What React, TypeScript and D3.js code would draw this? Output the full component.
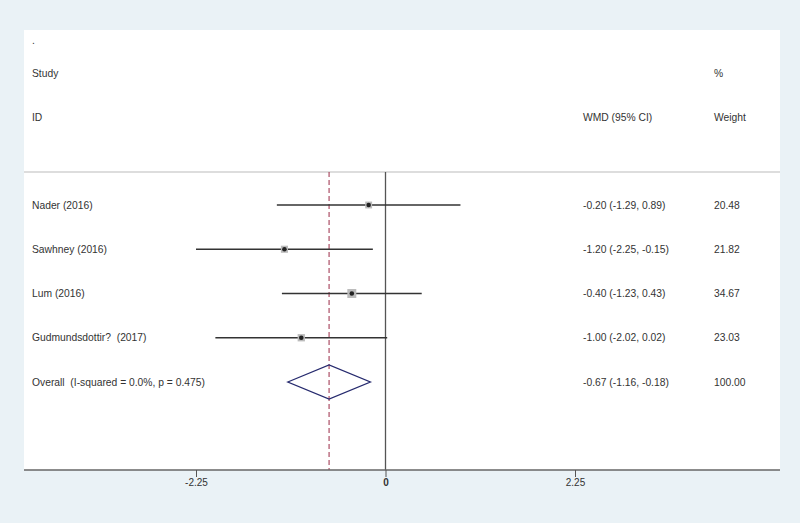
import React, { useEffect, useRef } from "react";
import * as d3 from "d3";

// study data
const studies = ["Nader (2016)", "Sawhney (2016)", "Lum (2016)", "Gudmundsdottir?  (2017)"];
const est = [-0.2, -1.2, -0.4, -1.0];
const lower = [-1.29, -2.25, -1.23, -2.02];
const upper = [0.89, -0.15, 0.43, 0.02];
const weights = [20.48, 21.82, 34.67, 23.03];
const ciText = ["-0.20 (-1.29, 0.89)", "-1.20 (-2.25, -0.15)", "-0.40 (-1.23, 0.43)", "-1.00 (-2.02, 0.02)"];

const overallLabel = "Overall  (I-squared = 0.0%, p = 0.475)";
const overall = { est: -0.67, lo: -1.16, hi: -0.18, text: "-0.67 (-1.16, -0.18)", weight: "100.00" };

const xTicks = [-2.25, 0, 2.25];

export default function App() {
  const ref = useRef<SVGSVGElement>(null);

  useEffect(() => {
    const width = 800;
    const height = 523;
    const svg = d3.select(ref.current);
    svg.selectAll("*").remove();

    const font = "Liberation Sans, Arial, sans-serif";
    const left = 24, right = 780, top = 30, bottom = 470;
    const sepY = 172;

    svg.append("rect").attr("width", width).attr("height", height).attr("fill", "#eaf2f6");
    svg.append("rect")
      .attr("x", left).attr("y", top)
      .attr("width", right - left).attr("height", bottom - top)
      .attr("fill", "#fff");

    const x = d3.scaleLinear().domain([-2.25, 2.25]).range([196, 575]);
    const rows = [...studies, overallLabel];
    const y = d3.scalePoint<string>().domain(rows).range([205, 382]);

    const txt = (s: string, tx: number, ty: number, size = 10.3) =>
      svg.append("text")
        .attr("x", tx).attr("y", ty)
        .attr("dy", "0.35em")
        .attr("font-family", font)
        .attr("font-size", size)
        .attr("fill", "#333")
        .style("white-space", "pre")
        .text(s);

    // header
    txt(".", 32, 40);
    txt("Study", 32, 73);
    txt("ID", 32, 117);
    txt("WMD (95% CI)", 583, 117);
    txt("%", 714, 73);
    txt("Weight", 714, 117);

    // separator
    svg.append("line")
      .attr("x1", left).attr("x2", right)
      .attr("y1", sepY).attr("y2", sepY)
      .attr("stroke", "#bbb").attr("stroke-width", 1);

    // null line
    svg.append("line")
      .attr("x1", x(0)).attr("x2", x(0))
      .attr("y1", sepY).attr("y2", bottom)
      .attr("stroke", "#555").attr("stroke-width", 1.3);

    // overall dashed line
    svg.append("line")
      .attr("x1", x(overall.est)).attr("x2", x(overall.est))
      .attr("y1", sepY).attr("y2", bottom)
      .attr("stroke", "#9b2a45").attr("stroke-width", 1)
      .attr("stroke-dasharray", "5,3");

    const size = d3.scaleSqrt().domain([0, 35]).range([0, 9]);

    studies.forEach((s, i) => {
      const cy = y(s)!;
      svg.append("line")
        .attr("x1", x(lower[i])).attr("x2", x(upper[i]))
        .attr("y1", cy).attr("y2", cy)
        .attr("stroke", "#333").attr("stroke-width", 1.5);
      const w = size(weights[i]);
      svg.append("rect")
        .attr("x", x(est[i]) - w / 2).attr("y", cy - w / 2)
        .attr("width", w).attr("height", w)
        .attr("fill", "#bbb");
      svg.append("circle")
        .attr("cx", x(est[i])).attr("cy", cy).attr("r", 2.3)
        .attr("fill", "#222");
      txt(s, 32, cy);
      txt(ciText[i], 583, cy);
      txt(weights[i].toFixed(2), 714, cy);
    });

    // overall diamond
    const oy = y(overallLabel)!;
    const dh = 17;
    svg.append("path")
      .attr("d", d3.line()([
        [x(overall.lo), oy],
        [x(overall.est), oy - dh],
        [x(overall.hi), oy],
        [x(overall.est), oy + dh],
      ]) + "Z")
      .attr("fill", "none")
      .attr("stroke", "#262a6e")
      .attr("stroke-width", 1.3);
    txt(overallLabel, 32, oy);
    txt(overall.text, 583, oy);
    txt(overall.weight, 714, oy);

    // x axis
    svg.append("line")
      .attr("x1", left).attr("x2", right)
      .attr("y1", bottom).attr("y2", bottom)
      .attr("stroke", "#666").attr("stroke-width", 1.5);
    const ax = svg.append("g")
      .attr("transform", `translate(0,${bottom})`)
      .call(d3.axisBottom(x).tickValues(xTicks).tickSize(7).tickFormat((d) => (d === 0 ? "0" : d3.format(".2f")(d as number)).replace("−", "-")));
    ax.select(".domain").remove();
    ax.selectAll(".tick line").attr("stroke", "#555");
    ax.selectAll(".tick text")
      .attr("font-family", font)
      .attr("font-size", 10)
      .attr("fill", "#333")
      .attr("font-weight", (d) => (d === 0 ? "bold" : "normal"))
      .attr("y", 9);
  }, []);

  return (
    <div style={{ position: "fixed", left: 0, top: 0 }}>
      <svg ref={ref} width={800} height={523} style={{ display: "block" }}></svg>
    </div>
  );
}
